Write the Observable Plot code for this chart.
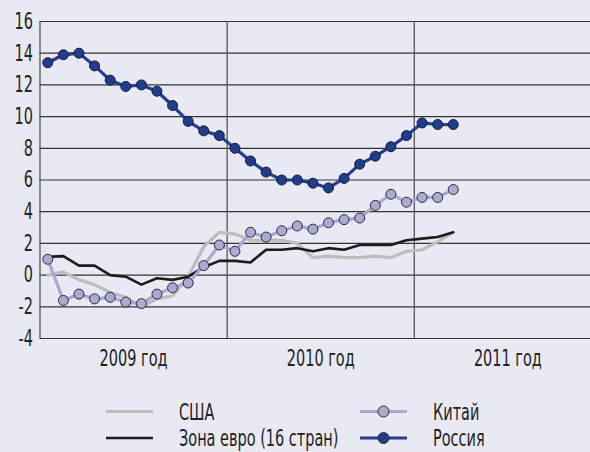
<!DOCTYPE html>
<html>
<head>
<meta charset="utf-8">
<script src="https://cdn.jsdelivr.net/npm/d3@7"></script>
<script src="https://cdn.jsdelivr.net/npm/@observablehq/plot@0.6"></script>
<style>
  html, body { margin: 0; padding: 0; background: #e9e9f4; }
  #wrap { position: relative; width: 590px; height: 452px; overflow: hidden; font-family: "DejaVu Sans Condensed", "DejaVu Sans", sans-serif; }
  #legend { position: absolute; left: 0; top: 378px; }
</style>
</head>
<body>
<div id="wrap"><div id="chart"></div><div id="legend"></div></div>
<script>
// Monthly values, Jan 2009 – Mar 2011 (index 0 = Jan 2009)
const russia = [13.4, 13.9, 14.0, 13.2, 12.3, 11.9, 12.0, 11.6, 10.7, 9.7, 9.1, 8.8, 8.0, 7.2, 6.5, 6.0, 6.0, 5.8, 5.5, 6.1, 7.0, 7.5, 8.1, 8.8, 9.6, 9.5, 9.5];
const china  = [1.0, -1.6, -1.2, -1.5, -1.4, -1.7, -1.8, -1.2, -0.8, -0.5, 0.6, 1.9, 1.5, 2.7, 2.4, 2.8, 3.1, 2.9, 3.3, 3.5, 3.6, 4.4, 5.1, 4.6, 4.9, 4.9, 5.4];
const usa    = [0.0, 0.2, -0.3, -0.6, -1.1, -1.4, -2.0, -1.5, -1.3, -0.1, 1.8, 2.7, 2.6, 2.2, 2.2, 2.2, 2.0, 1.1, 1.2, 1.1, 1.1, 1.2, 1.1, 1.5, 1.6, 2.1, 2.7];
const euro   = [1.15, 1.2, 0.6, 0.6, 0.0, -0.1, -0.6, -0.2, -0.3, -0.1, 0.5, 0.9, 0.9, 0.8, 1.6, 1.6, 1.7, 1.5, 1.7, 1.6, 1.9, 1.9, 1.9, 2.2, 2.3, 2.4, 2.7];
const yearLabels = ["2009 год", "2010 год", "2011 год"];
const yTicks = [-4, -2, 0, 2, 4, 6, 8, 10, 12, 14, 16];
const seriesNames = ["США", "Зона евро (16 стран)", "Китай", "Россия"];

const toRows = arr => arr.map((v, i) => ({i, v}));
const yearRows = yearLabels.map((t, k) => ({x: k * 12 + 5.5, t}));
const dividers = [-0.5, 11.5, 23.5];

const FONT = '"DejaVu Sans Condensed", "DejaVu Sans", sans-serif';
const FS = 23;       // font size
const SX = 0.7;      // horizontal squeeze to mimic the condensed face

const chart = Plot.plot({
  width: 590,
  height: 380,
  marginLeft: 39.5,
  marginRight: 0,
  marginTop: 21,
  marginBottom: 42,
  style: {background: "transparent", fontFamily: FONT, fontSize: FS + "px", color: "#222"},
  x: {domain: [-0.5, 34.8], axis: null},
  y: {domain: [-4, 16], ticks: yTicks, tickSize: 0, tickPadding: 7, label: null, tickFormat: d => String(d)},
  marks: [
    Plot.ruleY(yTicks, {stroke: "#333", strokeWidth: 1.2}),
    Plot.ruleX(dividers, {y1: -4, y2: 16, stroke: "#555", strokeWidth: 1.3}),
    Plot.line(toRows(usa), {x: "i", y: "v", stroke: "#bdbdbd", strokeWidth: 3.2}),
    Plot.line(toRows(euro), {x: "i", y: "v", stroke: "#1c1c1c", strokeWidth: 2.6}),
    Plot.line(toRows(china), {x: "i", y: "v", stroke: "#a8a8d0", strokeWidth: 3.2}),
    Plot.dot(toRows(china), {x: "i", y: "v", r: 5, fill: "#abaad2", stroke: "#2a2a3a", strokeWidth: 1}),
    Plot.line(toRows(russia), {x: "i", y: "v", stroke: "#22408f", strokeWidth: 3.2}),
    Plot.dot(toRows(russia), {x: "i", y: "v", r: 5, fill: "#213e8e", stroke: "#1a1a33", strokeWidth: 1}),
    Plot.text(yearRows, {x: "x", y: () => -4, text: "t", dy: 20, fill: "#222", fontSize: FS, textAnchor: "middle"})
  ]
});
document.getElementById("chart").appendChild(chart);

// Legend
const legendItems = [
  {name: seriesNames[0], x: 106, y: 33.5, stroke: "#bdbdbd", w: 3.2, dot: null},
  {name: seriesNames[1], x: 106, y: 60, stroke: "#1c1c1c", w: 2.6, dot: null},
  {name: seriesNames[2], x: 360, y: 33.5, stroke: "#a8a8d0", w: 3.2, dot: "#abaad2"},
  {name: seriesNames[3], x: 360, y: 60, stroke: "#22408f", w: 3.2, dot: "#213e8e"}
];
const leg = d3.select("#legend").append("svg").attr("width", 590).attr("height", 74)
  .style("font-family", FONT).style("font-size", FS + "px");
for (const it of legendItems) {
  leg.append("line").attr("x1", it.x).attr("x2", it.x + 47).attr("y1", it.y).attr("y2", it.y)
    .attr("stroke", it.stroke).attr("stroke-width", it.w);
  if (it.dot) leg.append("circle").attr("cx", it.x + 23.5).attr("cy", it.y).attr("r", 5.5)
    .attr("fill", it.dot).attr("stroke", "#2a2a3a").attr("stroke-width", 1);
  leg.append("text").attr("transform", `translate(${it.x + 73},${it.y})`).attr("dy", "0.35em").attr("fill", "#222").text(it.name);
}

// Squeeze every text horizontally around its anchor point
document.querySelectorAll("#wrap svg text").forEach(t => {
  const x = +(t.getAttribute("x") || 0);
  const tr = t.getAttribute("transform") || "";
  t.setAttribute("transform", `${tr} translate(${x},0) scale(${SX},1) translate(${-x},0)`);
});
</script>
</body>
</html>
